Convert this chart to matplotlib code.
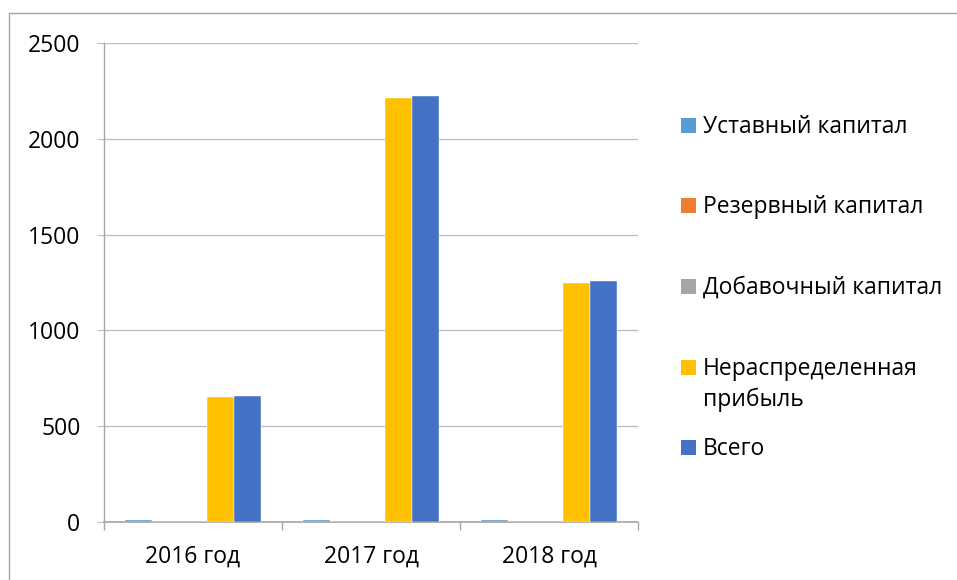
import numpy as np
import matplotlib.pyplot as plt
from matplotlib.lines import Line2D
from matplotlib.patches import Rectangle

plt.rcParams['font.family'] = ['Open Sans', 'DejaVu Sans']

years = ["2016 год", "2017 год", "2018 год"]
series = ["Уставный капитал", "Резервный капитал", "Добавочный капитал",
          "Нераспределенная\nприбыль", "Всего"]
ustavny = [10, 10, 10]
rezervny = [0, 0, 0]
dobavochny = [0, 0, 0]
neraspr = [650, 2212, 1247]
vsego = [660, 2222, 1257]
colors = ["#5B9BD5", "#ED7D31", "#A5A5A5", "#FFC000", "#4472C4"]

W, H = 957, 580
fig = plt.figure(figsize=(W / 100, H / 100), dpi=100)
ax = fig.add_axes([104 / W, (H - 522) / H, (638 - 104) / W, (522 - 43) / H])

values = [ustavny, rezervny, dobavochny, neraspr, vsego]
x = np.arange(len(years))
bw = 0.152
bars = []
for i, (vals, c) in enumerate(zip(values, colors)):
    b = ax.bar(x + (i - 2) * bw, vals, bw, color=c, edgecolor="white",
               linewidth=0.3, zorder=3)
    bars.append(b)

ax.set_xlim(-0.5, 2.5)
ax.set_ylim(0, 2500)
ax.set_yticks(np.arange(0, 2501, 500))
ax.set_xticks(x)
ax.set_xticklabels(years)
ax.set_xticks([-0.5, 0.5, 1.5, 2.5], minor=True)

gray = "#A6A6A6"
fs = 16.5
ax.grid(axis="y", color="#BFBFBF", linewidth=1.0, zorder=0)
for s in ["top", "right"]:
    ax.spines[s].set_visible(False)
ax.spines["left"].set_color(gray)
ax.spines["bottom"].set_color(gray)
ax.spines["left"].set_linewidth(1.0)
ax.spines["bottom"].set_linewidth(1.2)
ax.tick_params(axis="y", length=5, color="#BFBFBF", labelsize=fs, pad=12,
               labelcolor="black")
ax.tick_params(axis="x", which="major", length=0, labelsize=fs, pad=16)
ax.tick_params(axis="x", which="minor", length=5.8, color=gray, width=1.0)

# legend on the right, drawn by hand to match the uneven spacing
leg_y = [125, 205, 286, 367, 447]
for name, c, yy, b in zip(series, colors, leg_y, bars):
    fig.add_artist(Rectangle((681 / W, 1 - (yy + 7.5) / H), 15 / W, 15 / H,
                             transform=fig.transFigure,
                             facecolor=b.patches[0].get_facecolor(),
                             edgecolor="none"))
    for k, line in enumerate(name.split("\n")):
        fig.text(703 / W, 1 - (yy + 8 + 31 * k) / H, line, fontsize=fs,
                 va="baseline", ha="left")

# outer chart frame (cropped)
fig.add_artist(Line2D([9 / W, 9 / W, 1], [0, 1 - 13 / H, 1 - 13 / H],
                      transform=fig.transFigure, color="#A6A6A6", lw=1.0))

fig.savefig("out.png", dpi=100)
